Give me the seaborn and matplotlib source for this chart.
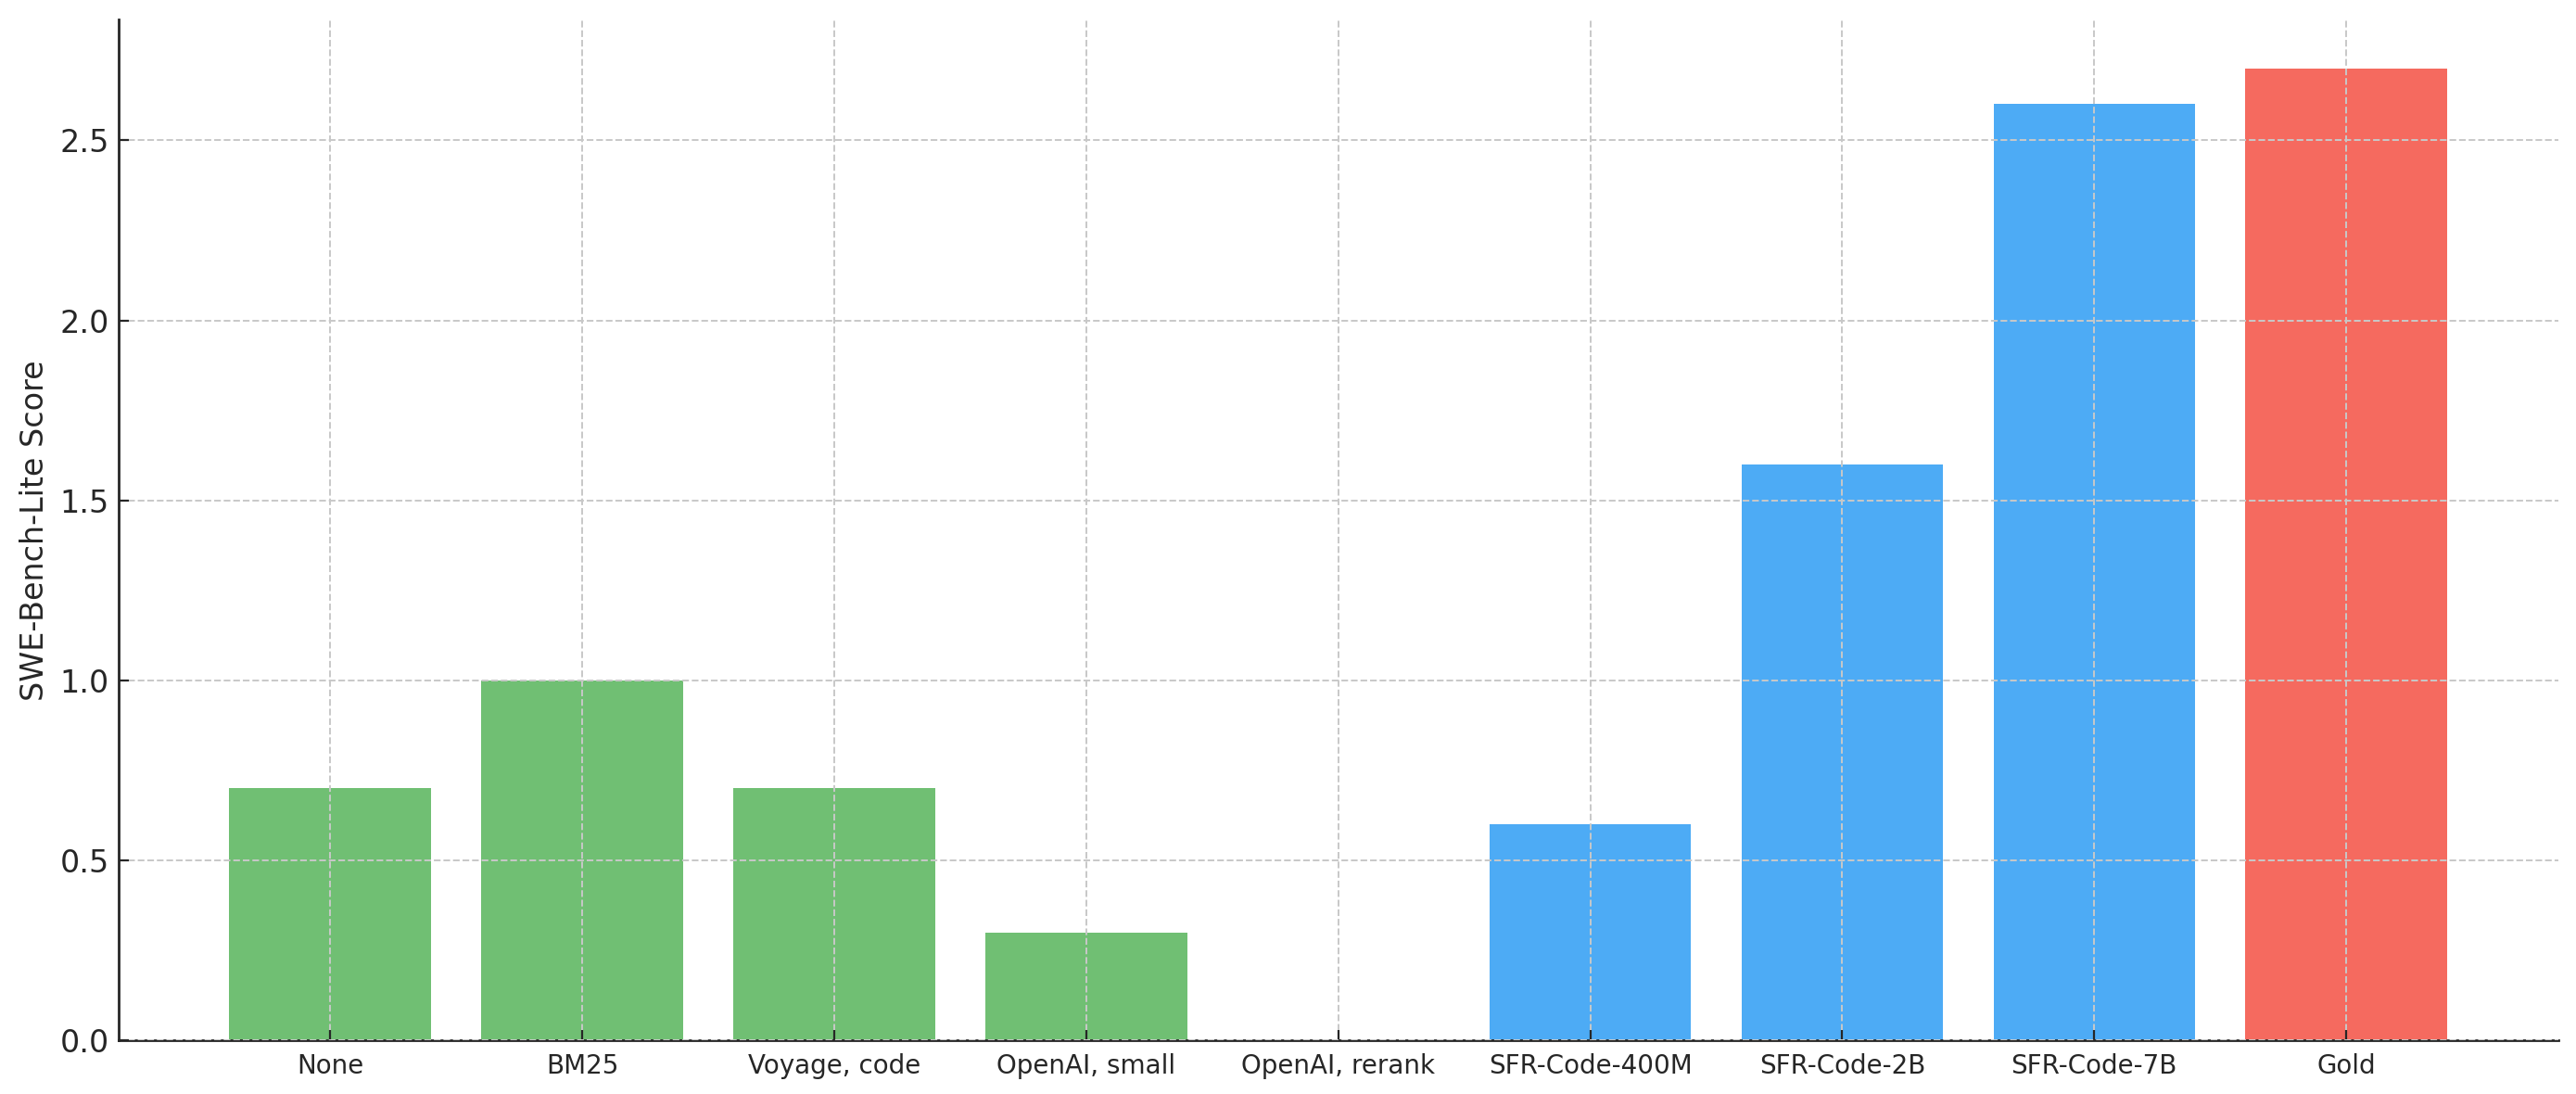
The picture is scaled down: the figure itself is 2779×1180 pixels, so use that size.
import pandas as pd
import seaborn as sns
import matplotlib.pyplot as plt

# Data
methods = ["None", "BM25", "Voyage, code", "OpenAI, small", "OpenAI, rerank",
           "SFR-Code-400M", "SFR-Code-2B", "SFR-Code-7B", "Gold"]
scores = [0.7, 1.0, 0.7, 0.3, 0.0, 0.6, 1.6, 2.6, 2.7]
bar_colors = ["#70bf73", "#70bf73", "#70bf73", "#70bf73", "#70bf73",
              "#4dabf5", "#4dabf5", "#4dabf5", "#f56a5f"]

df = pd.DataFrame({"method": methods, "score": scores})

sns.set_style("ticks")
plt.rcParams['font.family'] = ['DejaVu Sans']

fig, ax = plt.subplots(figsize=(13.895, 5.9), dpi=200)
fig.subplots_adjust(left=0.046, right=0.993, top=0.982, bottom=0.049)

sns.barplot(data=df, x="method", y="score", hue="method", palette=bar_colors,
            legend=False, saturation=1, width=0.8, linewidth=0, ax=ax)

# matplotlib-like default x margins around the bars
n = len(methods)
pad = 0.05 * (n - 1 + 0.8)
ax.set_xlim(-0.4 - pad, n - 1 + 0.4 + pad)

ax.set_xlabel("")
ax.set_ylabel("SWE-Bench-Lite Score", fontsize=12)
ax.tick_params(axis='y', labelsize=12, direction='in', length=4, color='#262626')
ax.tick_params(axis='x', labelsize=10, direction='in', length=4, color='#262626', pad=5)
ax.set_yticks([0.0, 0.5, 1.0, 1.5, 2.0, 2.5])

# grid over the bars, dashed and light
ax.set_axisbelow(False)
ax.grid(True, linestyle='--', linewidth=0.7, color='#c8c8c8')

sns.despine(ax=ax)
for s in ['left', 'bottom']:
    ax.spines[s].set_linewidth(1.0)
    ax.spines[s].set_color('#262626')

plt.savefig("out.png", dpi=200)
